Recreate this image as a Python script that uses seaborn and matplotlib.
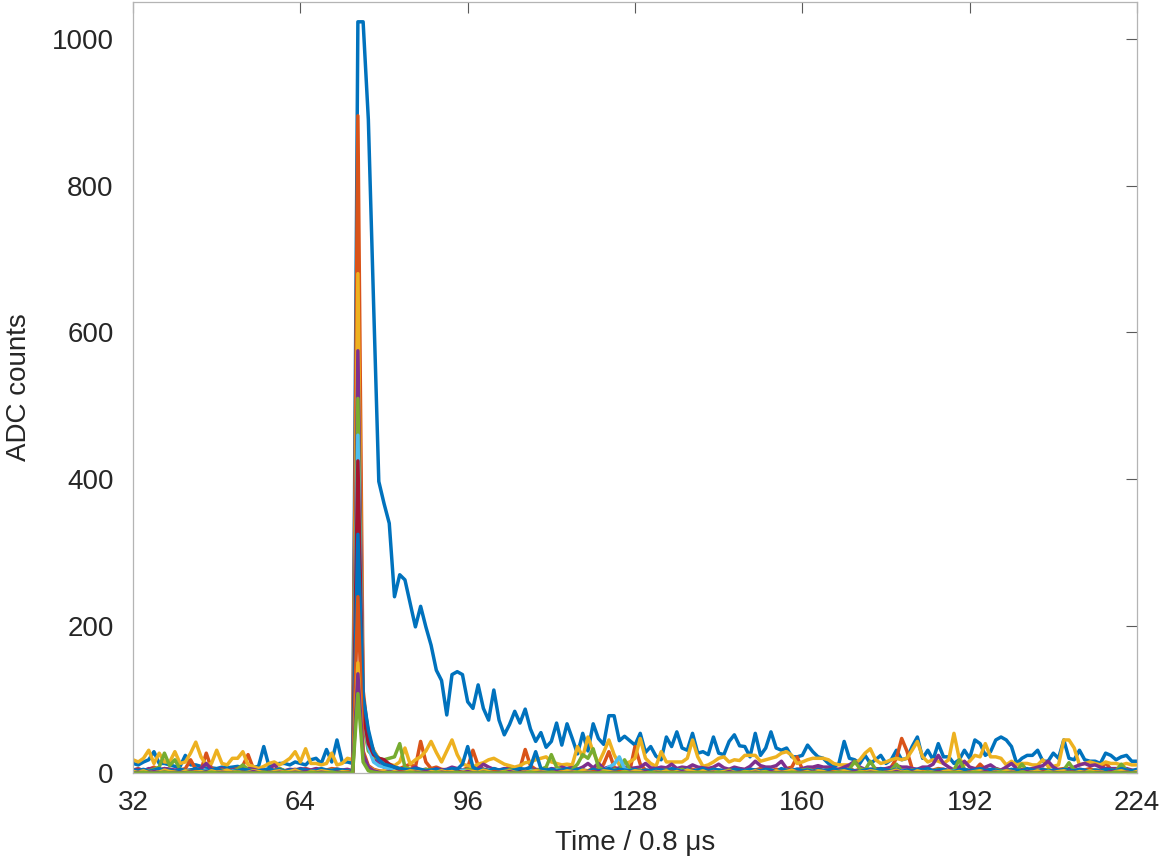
import numpy as np
import pandas as pd
import matplotlib
matplotlib.use("Agg")
import matplotlib.pyplot as plt
import seaborn as sns

# time bins 32..224 (units of 0.8 us)
time_bins = np.arange(32, 225)

# one list per channel (ADC counts)
ch01 = [13, 11, 15, 18, 29, 13, 13, 11, 9, 9, 24, 11, 11, 9, 8, 7, 6, 8, 7, 8,
        9, 7, 6, 8, 9, 36, 9, 11, 13, 13, 11, 15, 13, 11, 18, 20, 13, 32, 15, 45,
        15, 15, 13, 1023, 1023, 890, 640, 397, 367, 340, 240, 270, 263, 231, 199, 227, 199, 174, 140, 126,
        79, 134, 138, 134, 97, 88, 120, 88, 72, 113, 72, 52, 66, 84, 68, 87, 60, 43, 55, 35,
        43, 68, 38, 67, 47, 26, 54, 30, 67, 47, 39, 78, 78, 44, 50, 44, 38, 54, 28, 36,
        23, 18, 49, 36, 56, 34, 31, 54, 27, 29, 25, 49, 27, 25, 43, 52, 37, 36, 22, 54,
        24, 34, 56, 34, 31, 34, 22, 22, 24, 38, 29, 22, 20, 13, 8, 13, 43, 20, 18, 13,
        24, 13, 18, 24, 13, 18, 31, 18, 20, 36, 49, 20, 31, 18, 40, 22, 22, 13, 18, 31,
        20, 45, 40, 24, 29, 45, 49, 45, 36, 13, 20, 24, 24, 31, 16, 16, 27, 20, 45, 20,
        18, 31, 18, 16, 16, 13, 27, 24, 18, 22, 24, 16, 16]

ch02 = [4, 6, 3, 5, 8, 4, 6, 5, 3, 4, 6, 18, 5, 4, 27, 6, 4, 5, 3, 4,
        6, 10, 25, 6, 4, 3, 5, 4, 6, 3, 4, 5, 3, 6, 4, 5, 3, 4, 6, 5,
        4, 3, 2, 895, 113, 49, 31, 18, 14, 10, 8, 6, 9, 12, 8, 43, 15, 6, 8, 5,
        4, 6, 5, 4, 7, 31, 10, 5, 4, 6, 3, 5, 8, 4, 6, 32, 10, 5, 4, 6,
        3, 5, 4, 6, 8, 5, 4, 3, 6, 5, 12, 29, 8, 4, 5, 3, 36, 12, 4, 3,
        5, 4, 6, 3, 5, 4, 7, 5, 3, 4, 6, 5, 4, 3, 5, 4, 6, 3, 5, 4,
        6, 4, 3, 5, 4, 6, 8, 22, 5, 3, 4, 6, 5, 4, 3, 5, 4, 6, 3, 5,
        4, 3, 5, 6, 4, 8, 20, 47, 30, 6, 4, 5, 3, 4, 6, 5, 3, 4, 6, 5,
        3, 4, 12, 5, 4, 6, 3, 5, 4, 3, 5, 4, 6, 3, 5, 4, 3, 5, 6, 4,
        3, 5, 4, 6, 3, 4, 14, 5, 3, 4, 5, 3, 4]

ch03 = [18, 15, 20, 31, 13, 27, 15, 15, 29, 13, 15, 27, 42, 22, 11, 13, 31, 13, 11, 20,
        20, 29, 11, 9, 6, 9, 13, 15, 11, 15, 20, 29, 15, 33, 13, 13, 11, 13, 27, 11,
        13, 20, 18, 680, 90, 45, 30, 20, 15, 12, 10, 15, 34, 12, 18, 22, 30, 43, 28, 15,
        30, 45, 25, 12, 10, 8, 12, 14, 18, 20, 16, 12, 10, 8, 10, 14, 15, 18, 20, 22,
        15, 13, 11, 12, 11, 36, 22, 49, 29, 13, 28, 45, 25, 11, 13, 15, 20, 47, 20, 13,
        9, 29, 15, 15, 15, 15, 20, 45, 22, 9, 11, 15, 20, 22, 15, 18, 17, 24, 24, 24,
        16, 18, 20, 22, 27, 29, 24, 13, 15, 18, 20, 20, 20, 18, 13, 11, 11, 11, 13, 18,
        27, 33, 18, 13, 15, 18, 20, 18, 20, 31, 43, 22, 15, 18, 16, 13, 18, 54, 20, 11,
        16, 24, 22, 40, 22, 22, 20, 11, 16, 11, 13, 13, 11, 11, 18, 9, 9, 11, 45, 45,
        34, 11, 13, 15, 13, 11, 15, 13, 13, 11, 13, 11, 11]

ch04 = [4, 5, 3, 6, 5, 4, 6, 5, 4, 5, 3, 4, 5, 6, 13, 5, 4, 6, 3, 4,
        5, 4, 6, 5, 3, 4, 5, 11, 4, 3, 5, 4, 6, 5, 4, 6, 5, 3, 4, 5,
        4, 5, 3, 575, 100, 55, 25, 12, 8, 6, 5, 4, 6, 5, 8, 4, 5, 3, 6, 4,
        5, 8, 6, 4, 5, 3, 6, 12, 8, 5, 4, 6, 5, 3, 4, 5, 6, 4, 5, 3,
        6, 5, 8, 6, 7, 5, 8, 13, 7, 13, 6, 8, 5, 7, 8, 6, 7, 8, 13, 7,
        6, 8, 7, 12, 6, 8, 7, 11, 8, 7, 6, 8, 12, 7, 5, 8, 6, 5, 9, 16,
        10, 8, 8, 10, 16, 6, 3, 5, 6, 8, 8, 10, 8, 8, 6, 5, 8, 11, 16, 8,
        5, 5, 6, 5, 6, 8, 10, 8, 8, 6, 5, 8, 8, 12, 24, 13, 8, 4, 8, 16,
        8, 6, 4, 8, 11, 6, 4, 8, 13, 6, 4, 4, 6, 8, 10, 16, 8, 4, 4, 6,
        8, 11, 13, 10, 11, 8, 6, 6, 6, 6, 6, 4, 2]

ch05 = [3, 2, 4, 3, 5, 8, 27, 10, 18, 5, 3, 2, 4, 3, 2, 3, 2, 4, 3, 2,
        5, 11, 4, 3, 2, 3, 4, 3, 6, 3, 2, 3, 4, 3, 2, 3, 2, 3, 4, 3,
        2, 3, 2, 510, 70, 30, 22, 20, 18, 20, 22, 40, 8, 5, 4, 3, 5, 4, 3, 2,
        3, 4, 2, 3, 5, 4, 3, 2, 4, 3, 2, 3, 5, 4, 3, 2, 4, 3, 5, 8,
        25, 8, 4, 3, 5, 12, 25, 20, 33, 8, 4, 3, 5, 4, 18, 5, 3, 4, 2, 3,
        2, 3, 4, 2, 3, 5, 3, 2, 4, 3, 2, 5, 3, 2, 4, 3, 2, 3, 4, 3,
        2, 4, 3, 2, 3, 4, 2, 3, 4, 5, 3, 2, 3, 4, 2, 3, 4, 5, 16, 6,
        4, 16, 5, 3, 2, 4, 12, 3, 2, 4, 3, 2, 4, 3, 5, 3, 2, 4, 18, 5,
        3, 2, 4, 3, 2, 5, 3, 2, 4, 3, 12, 3, 2, 4, 3, 5, 2, 3, 4, 14,
        4, 3, 2, 3, 4, 3, 2, 4, 3, 12, 4, 3, 2]

ch06 = [2, 1, 3, 2, 1, 2, 3, 1, 2, 1, 3, 2, 1, 2, 3, 1, 2, 1, 2, 3,
        1, 2, 3, 1, 2, 1, 2, 3, 1, 2, 1, 3, 2, 1, 2, 3, 1, 2, 1, 2,
        3, 1, 2, 460, 80, 35, 15, 10, 8, 6, 4, 3, 5, 3, 2, 4, 3, 2, 3, 2,
        1, 3, 2, 4, 2, 1, 3, 2, 4, 3, 2, 1, 3, 2, 4, 2, 3, 1, 2, 3,
        2, 4, 3, 1, 2, 3, 2, 1, 4, 2, 3, 8, 12, 22, 6, 2, 3, 1, 2, 3,
        2, 1, 3, 2, 4, 2, 1, 3, 2, 1, 3, 2, 4, 3, 1, 2, 3, 2, 1, 3,
        2, 1, 3, 2, 4, 2, 3, 1, 2, 3, 2, 1, 4, 2, 3, 1, 2, 3, 2, 1,
        3, 2, 1, 2, 3, 1, 2, 3, 2, 1, 3, 2, 1, 2, 3, 1, 2, 3, 2, 1,
        2, 3, 1, 2, 3, 2, 1, 2, 3, 1, 2, 3, 2, 1, 2, 3, 1, 2, 3, 2,
        1, 2, 3, 2, 1, 3, 2, 1, 2, 3, 1, 2, 2]

ch07 = [1, 2, 0, 1, 3, 1, 0, 2, 1, 0, 1, 2, 1, 0, 2, 1, 0, 1, 2, 1,
        0, 1, 2, 0, 1, 2, 1, 0, 1, 2, 0, 1, 3, 1, 0, 2, 1, 0, 1, 2,
        1, 0, 1, 425, 81, 40, 25, 20, 18, 12, 8, 5, 4, 3, 2, 3, 2, 1, 2, 1,
        0, 1, 2, 1, 0, 2, 1, 3, 1, 0, 2, 1, 0, 1, 2, 1, 0, 2, 1, 0,
        1, 2, 0, 1, 3, 1, 0, 2, 1, 0, 1, 2, 1, 0, 2, 1, 3, 0, 1, 2,
        1, 0, 2, 1, 0, 1, 2, 0, 1, 3, 1, 0, 2, 1, 0, 1, 2, 1, 0, 2,
        1, 0, 1, 2, 0, 1, 3, 1, 0, 2, 1, 0, 1, 2, 1, 0, 2, 1, 0, 1,
        2, 1, 0, 1, 3, 1, 0, 2, 1, 0, 1, 2, 0, 1, 2, 1, 0, 1, 2, 0,
        1, 2, 1, 0, 2, 1, 0, 1, 3, 1, 0, 2, 1, 0, 1, 2, 0, 1, 2, 1,
        0, 1, 2, 1, 0, 2, 1, 0, 1, 2, 1, 0, 1]

ch08 = [4, 3, 5, 2, 4, 6, 3, 4, 2, 5, 3, 4, 6, 3, 2, 4, 5, 3, 4, 2,
        3, 5, 4, 2, 3, 4, 6, 3, 5, 2, 4, 3, 5, 4, 2, 3, 6, 4, 3, 5,
        4, 3, 2, 325, 104, 59, 29, 18, 12, 10, 8, 6, 5, 4, 6, 5, 3, 4, 5, 3,
        4, 6, 5, 12, 36, 8, 4, 5, 3, 6, 4, 5, 3, 4, 6, 5, 8, 29, 6, 4,
        5, 3, 4, 6, 3, 5, 4, 2, 5, 3, 4, 6, 3, 5, 4, 3, 5, 2, 4, 3,
        5, 4, 3, 6, 4, 2, 5, 3, 4, 6, 3, 5, 4, 3, 2, 5, 4, 3, 5, 4,
        3, 5, 4, 2, 6, 3, 4, 5, 3, 4, 2, 5, 3, 4, 6, 3, 5, 4, 3, 2,
        4, 5, 3, 6, 4, 3, 5, 2, 4, 3, 5, 4, 6, 3, 4, 5, 3, 2, 4, 5,
        3, 4, 6, 3, 5, 4, 2, 3, 5, 4, 3, 6, 4, 3, 5, 2, 4, 3, 5, 4,
        3, 5, 4, 2, 4, 3, 5, 4, 3, 6, 4, 3, 5]

ch09 = [1, 0, 2, 1, 0, 1, 0, 2, 1, 0, 0, 1, 2, 0, 1, 0, 1, 0, 2, 1,
        0, 1, 0, 2, 1, 0, 1, 0, 0, 2, 1, 0, 1, 0, 2, 1, 0, 1, 0, 1,
        0, 2, 0, 240, 30, 10, 5, 3, 2, 1, 0, 2, 1, 0, 1, 0, 2, 1, 0, 1,
        2, 0, 1, 0, 1, 2, 0, 1, 0, 2, 1, 0, 1, 0, 0, 2, 1, 0, 1, 0,
        1, 0, 2, 1, 0, 1, 0, 0, 2, 1, 0, 1, 0, 2, 1, 0, 1, 0, 2, 0,
        1, 0, 1, 2, 0, 1, 0, 2, 1, 0, 1, 0, 0, 1, 2, 0, 1, 0, 1, 2,
        0, 1, 0, 2, 1, 0, 1, 0, 1, 2, 0, 0, 1, 0, 2, 1, 0, 1, 0, 1,
        2, 0, 1, 0, 1, 0, 2, 1, 0, 1, 0, 2, 1, 0, 1, 0, 0, 2, 1, 0,
        1, 0, 2, 1, 0, 1, 0, 1, 2, 0, 1, 0, 1, 0, 2, 1, 0, 1, 0, 2,
        1, 0, 1, 0, 2, 1, 0, 1, 0, 2, 1, 0, 1]

ch10 = [2, 1, 3, 0, 2, 1, 4, 2, 1, 0, 3, 2, 1, 2, 0, 3, 1, 2, 4, 1,
        2, 0, 1, 3, 2, 1, 0, 2, 3, 1, 2, 4, 1, 0, 2, 1, 3, 2, 1, 0,
        2, 1, 0, 150, 20, 8, 4, 2, 3, 1, 2, 0, 1, 3, 2, 1, 0, 2, 1, 3,
        1, 2, 0, 1, 3, 2, 1, 4, 2, 0, 1, 2, 3, 1, 0, 2, 1, 3, 2, 1,
        0, 2, 1, 3, 2, 1, 4, 2, 0, 1, 3, 2, 1, 0, 2, 1, 3, 2, 1, 0,
        2, 1, 3, 0, 2, 1, 4, 2, 1, 3, 0, 2, 1, 2, 3, 1, 0, 2, 1, 3,
        1, 2, 0, 3, 1, 2, 4, 1, 0, 2, 1, 3, 2, 0, 1, 2, 3, 1, 0, 2,
        1, 3, 2, 0, 1, 2, 4, 1, 2, 0, 3, 1, 2, 1, 0, 2, 3, 1, 2, 0,
        1, 2, 3, 1, 0, 2, 1, 3, 2, 0, 1, 2, 1, 3, 0, 2, 1, 2, 3, 1,
        0, 2, 1, 3, 1, 2, 0, 1, 2, 3, 1, 0, 2]

ch11 = [0, 1, 0, 0, 2, 0, 1, 0, 0, 1, 0, 2, 0, 0, 1, 0, 0, 1, 0, 0,
        1, 0, 0, 2, 0, 1, 0, 0, 1, 0, 0, 1, 0, 2, 0, 0, 1, 0, 0, 1,
        0, 0, 1, 135, 25, 8, 3, 1, 0, 2, 0, 1, 0, 0, 1, 0, 2, 0, 0, 1,
        0, 0, 1, 0, 2, 0, 0, 1, 0, 0, 1, 0, 2, 0, 0, 1, 0, 0, 1, 0,
        0, 2, 0, 0, 1, 0, 0, 1, 0, 2, 0, 0, 1, 0, 0, 1, 0, 0, 2, 0,
        1, 0, 0, 1, 0, 2, 0, 0, 1, 0, 0, 1, 0, 0, 2, 0, 1, 0, 0, 1,
        0, 0, 2, 0, 1, 0, 0, 1, 0, 0, 2, 0, 0, 1, 0, 1, 0, 0, 2, 0,
        0, 1, 0, 0, 1, 0, 2, 0, 0, 1, 0, 0, 1, 0, 2, 0, 0, 1, 0, 0,
        1, 0, 0, 2, 0, 1, 0, 0, 1, 0, 0, 2, 0, 0, 1, 0, 1, 0, 0, 2,
        0, 0, 1, 0, 0, 1, 0, 2, 0, 0, 1, 0, 0]

ch12 = [0, 0, 1, 0, 0, 0, 1, 0, 0, 0, 0, 1, 0, 0, 0, 1, 0, 0, 0, 0,
        1, 0, 0, 0, 0, 1, 0, 0, 0, 1, 0, 0, 0, 0, 1, 0, 0, 0, 1, 0,
        0, 0, 0, 108, 15, 3, 1, 0, 0, 1, 0, 0, 0, 1, 0, 0, 0, 0, 1, 0,
        0, 0, 1, 0, 0, 0, 0, 1, 0, 0, 0, 1, 0, 0, 0, 0, 1, 0, 0, 0,
        1, 0, 0, 0, 0, 1, 0, 0, 0, 0, 1, 0, 0, 0, 1, 0, 0, 0, 0, 1,
        0, 0, 0, 1, 0, 0, 0, 0, 1, 0, 0, 0, 1, 0, 0, 0, 0, 1, 0, 0,
        0, 1, 0, 0, 0, 0, 1, 0, 0, 0, 1, 0, 0, 0, 0, 1, 0, 0, 0, 1,
        0, 0, 0, 1, 0, 0, 0, 0, 1, 0, 0, 0, 1, 0, 0, 0, 0, 1, 0, 0,
        0, 1, 0, 0, 0, 0, 1, 0, 0, 0, 1, 0, 0, 0, 0, 1, 0, 0, 0, 1,
        0, 0, 0, 1, 0, 0, 0, 0, 1, 0, 0, 0, 0]

channels = {'ch01': ch01, 'ch02': ch02, 'ch03': ch03, 'ch04': ch04,
            'ch05': ch05, 'ch06': ch06, 'ch07': ch07, 'ch08': ch08,
            'ch09': ch09, 'ch10': ch10, 'ch11': ch11, 'ch12': ch12}

# matlab default colour order, repeated
colours = ['#0072BD', '#D95319', '#EDB120', '#7E2F8E', '#77AC30', '#4DBEEE',
           '#A2142F', '#0072BD', '#D95319', '#EDB120', '#7E2F8E', '#77AC30']

frames = []
for name, vals in channels.items():
    if len(vals) != len(time_bins):
        raise ValueError(name + ' has ' + str(len(vals)) + ' values')
    frames.append(pd.DataFrame({'time': time_bins, 'adc': vals, 'channel': name}))
df = pd.concat(frames, ignore_index=True)

sns.set_style('white')
plt.rcParams['font.family'] = ['Liberation Sans', 'DejaVu Sans']

fig = plt.figure(figsize=(11.61, 8.63), dpi=100)
ax = fig.add_axes([0.1146, 0.1043, 0.8647, 0.8934])

sns.lineplot(data=df, x='time', y='adc', hue='channel', palette=colours,
             estimator=None, errorbar=None, sort=False, lw=2.5, legend=False, ax=ax)

ax.set_xlim(32, 224)
ax.set_ylim(0, 1050)
ax.set_xticks([32, 64, 96, 128, 160, 192, 224])
ax.set_yticks([0, 200, 400, 600, 800, 1000])

for sp in ax.spines.values():
    sp.set_color('#b4b4b4')
    sp.set_linewidth(0.9)
ax.tick_params(direction='in', length=8, width=0.8, color='#5a5a5a',
               labelsize=20, labelcolor='#262626', top=True, right=True)
ax.tick_params(axis='x', pad=12)
ax.tick_params(axis='y', pad=14)

ax.set_xlabel('Time / 0.8 μs', fontsize=20, color='#262626', labelpad=10)
ax.set_ylabel('ADC counts', fontsize=20, color='#262626', labelpad=14)

fig.savefig('out.png', dpi=100)
